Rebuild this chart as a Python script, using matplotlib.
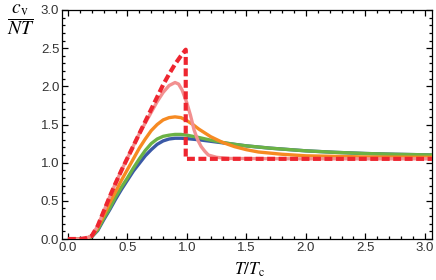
import matplotlib
matplotlib.use("Agg")
import matplotlib.pyplot as plt
from matplotlib.ticker import MultipleLocator

# Temperature grid (T/Tc) and read-off values of c_v/(N T)
T_blue = [0.0, 0.1, 0.15, 0.2, 0.25, 0.3, 0.35, 0.4, 0.45, 0.5, 0.55, 0.6, 0.65, 0.7, 0.75, 0.8, 0.85,
          0.9, 0.95, 1.0, 1.1, 1.2, 1.3, 1.4, 1.5, 1.7, 2.0, 2.25, 2.5, 2.75, 3.1]
cv_blue = [0.0, 0.0, 0.005, 0.03, 0.11, 0.25, 0.38, 0.52, 0.65, 0.77, 0.89, 0.99, 1.09, 1.17, 1.24, 1.285, 1.31,
           1.32, 1.32, 1.315, 1.30, 1.28, 1.26, 1.24, 1.22, 1.19, 1.155, 1.135, 1.12, 1.11, 1.10]

T_green = [0.0, 0.1, 0.15, 0.2, 0.25, 0.3, 0.35, 0.4, 0.45, 0.5, 0.55, 0.6, 0.65, 0.7, 0.75, 0.8, 0.85,
           0.9, 0.95, 1.0, 1.1, 1.2, 1.3, 1.4, 1.5, 1.7, 2.0, 2.25, 2.5, 2.75, 3.1]
cv_green = [0.0, 0.0, 0.005, 0.03, 0.12, 0.27, 0.40, 0.55, 0.68, 0.80, 0.93, 1.05, 1.16, 1.25, 1.31, 1.345, 1.36,
            1.37, 1.37, 1.36, 1.33, 1.295, 1.265, 1.24, 1.22, 1.19, 1.155, 1.135, 1.12, 1.11, 1.10]

T_orange = [0.0, 0.1, 0.15, 0.2, 0.25, 0.3, 0.35, 0.4, 0.45, 0.5, 0.55, 0.6, 0.65, 0.7, 0.75, 0.8, 0.85,
            0.9, 0.95, 1.0, 1.05, 1.1, 1.2, 1.3, 1.4, 1.5, 1.6, 1.8, 2.0, 2.5, 3.1]
cv_orange = [0.0, 0.0, 0.005, 0.04, 0.15, 0.31, 0.47, 0.62, 0.77, 0.91, 1.05, 1.19, 1.31, 1.42, 1.50, 1.56, 1.59,
             1.60, 1.59, 1.55, 1.50, 1.44, 1.34, 1.265, 1.21, 1.17, 1.14, 1.11, 1.09, 1.075, 1.07]

T_pink = [0.0, 0.1, 0.15, 0.2, 0.25, 0.3, 0.35, 0.4, 0.45, 0.5, 0.55, 0.6, 0.65, 0.7, 0.75, 0.8, 0.85, 0.9,
          0.93, 0.96, 1.0, 1.03, 1.06, 1.09, 1.12, 1.15, 1.18, 1.25, 1.35, 2.0, 3.1]
cv_pink = [0.0, 0.0, 0.01, 0.04, 0.17, 0.36, 0.55, 0.73, 0.90, 1.06, 1.22, 1.38, 1.52, 1.66, 1.80, 1.92, 2.01, 2.05,
           2.03, 1.95, 1.78, 1.62, 1.43, 1.30, 1.21, 1.15, 1.10, 1.07, 1.055, 1.05, 1.05]

T_red = [0.0, 0.1, 0.15, 0.2, 0.25, 0.3, 0.35, 0.4, 0.45, 0.5, 0.55, 0.6, 0.65, 0.7, 0.75, 0.8, 0.85, 0.9,
         0.95, 0.99, 0.99, 1.5, 2.0, 2.5, 3.1]
cv_red = [0.0, 0.0, 0.01, 0.04, 0.17, 0.36, 0.55, 0.73, 0.90, 1.06, 1.22, 1.38, 1.54, 1.70, 1.86, 2.02, 2.16, 2.29,
          2.40, 2.48, 1.05, 1.05, 1.05, 1.05, 1.05]

x_ticks = [0.0, 0.5, 1.0, 1.5, 2.0, 2.5, 3.0]
y_ticks = [0.0, 0.5, 1.0, 1.5, 2.0, 2.5, 3.0]

plt.rcParams['mathtext.fontset'] = 'stix'
fig = plt.figure(figsize=(4.36, 2.80), dpi=100)
ax = fig.add_axes([62/436, 41/280, 370/436, 229/280])

lw = 2.4
ax.plot(T_blue, cv_blue, color='#3a59a6', lw=lw, solid_capstyle='butt', zorder=2)
ax.plot(T_green, cv_green, color='#6bb245', lw=lw, solid_capstyle='butt', zorder=3)
ax.plot(T_orange, cv_orange, color='#f68a22', lw=lw, solid_capstyle='butt', zorder=4)
ax.plot(T_pink, cv_pink, color='#f29090', lw=lw, solid_capstyle='butt', zorder=5)
ax.plot(T_red, cv_red, color='#ee2630', lw=3.0, dashes=(1.9, 0.85), zorder=6)

ax.set_xlim(-0.05, 3.06)
ax.set_ylim(0.0, 3.0)
ax.set_xticks(x_ticks)
ax.set_yticks(y_ticks)
ax.set_xticklabels([f"{v:.1f}" for v in x_ticks])
ax.set_yticklabels([f"{v:.1f}" for v in y_ticks])
ax.xaxis.set_minor_locator(MultipleLocator(0.1))
ax.yaxis.set_minor_locator(MultipleLocator(0.1))
ax.tick_params(which='both', direction='in', top=True, right=True, width=0.9, colors='black',
               labelcolor='#333333', labelsize=9.5)
ax.tick_params(which='major', length=4.5, pad=2)
ax.tick_params(which='minor', length=2.5)
for lab in ax.get_xticklabels() + ax.get_yticklabels():
    lab.set_family('Liberation Sans')
for s in ax.spines.values():
    s.set_linewidth(0.9)

fig.text(21/436, 1 - 20/280, r"$\dfrac{c_\mathrm{v}}{NT}$", fontsize=14, ha='center', va='center')
fig.text(250/436, 1 - 270/280, r"$T/T_\mathrm{c}$", fontsize=12.5, ha='center', va='center')

fig.savefig("out.png", dpi=100)
